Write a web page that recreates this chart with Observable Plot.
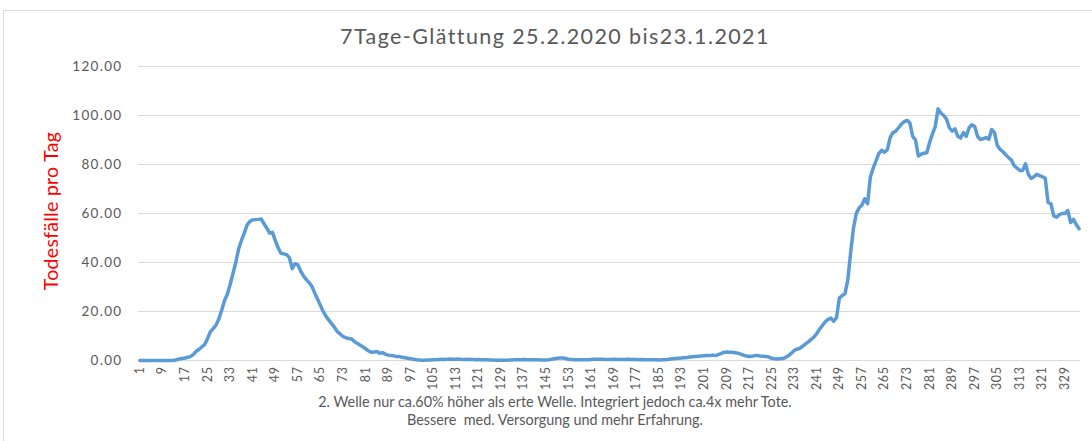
<!DOCTYPE html>
<html>
<head>
<meta charset="utf-8">
<script src="https://cdn.jsdelivr.net/npm/d3@7"></script>
<script src="https://cdn.jsdelivr.net/npm/@observablehq/plot@0.6"></script>
<style>
  html, body { margin: 0; padding: 0; background: #fff; }
  #wrap { position: relative; width: 1092px; height: 441px; overflow: hidden; font-family: Lato, "Open Sans", sans-serif; }
  #frame { position: absolute; left: 3px; top: 10px; width: 1200px; height: 600px; border: 1px solid #d9d9d9; box-sizing: border-box; }
  #title { position: absolute; left: 0; width: 1110px; top: 23px; text-align: center; font-size: 21.5px; letter-spacing: 1.4px; color: #595959; }
  #ylab { position: absolute; left: 50px; top: 211px; transform: translate(-50%, -50%) rotate(-90deg); white-space: nowrap; font-size: 19.5px; letter-spacing: 0.3px; color: #ff0000; }
  #caption { position: absolute; left: 0; width: 1110px; top: 393px; text-align: center; font-size: 14.4px; line-height: 18px; color: #595959; }
  #chart { position: absolute; left: 0; top: 0; }
  #chart g[aria-label="y-axis tick label"] text { letter-spacing: 1.3px; }
  #chart g[aria-label="x-axis tick label"] text { letter-spacing: 0.6px; }
</style>
</head>
<body>
<div id="wrap">
  <div id="frame"></div>
  <div id="chart"></div>
  <div id="title"></div>
  <div id="ylab"></div>
  <div id="caption"></div>
</div>
<script>
const titleText = "7Tage-Glättung 25.2.2020 bis23.1.2021";
const yLabelText = "Todesfälle pro Tag";
const captionLines = [
  "2. Welle nur ca.60% höher als erte Welle. Integriert jedoch ca.4x mehr Tote.",
  "Bessere\u00a0 med. Versorgung und mehr Erfahrung."
];
const yTicks = [0, 20, 40, 60, 80, 100, 120];
const xTicks = d3.range(1, 334, 8);

// daily 7-day smoothed deaths, day 1 = 25.2.2020 ... day 334 = 23.1.2021
const values = [
  0,0,0,0,0,0,0,0,0,0,
  0,0,0,0.3,0.6,0.8,1.0,1.3,1.7,2.5,
  3.8,4.6,5.6,6.6,9.0,11.8,13.0,14.5,17.0,20.5,
  24.5,27.0,31.0,35.5,40.0,45.5,49.0,52.0,55.3,56.8,
  57.4,57.5,57.6,57.8,55.8,54.0,52.0,52.3,49.0,46.0,
  43.8,43.5,43.2,42.0,37.5,39.5,39.0,36.5,34.5,33.0,
  31.8,30.2,27.5,25.0,22.5,20.0,18.0,16.5,15.0,13.5,
  11.8,10.8,9.8,9.3,9.0,8.8,7.8,7.0,6.3,5.6,
  4.8,4.0,3.4,3.5,3.7,3.0,3.2,2.6,2.2,2.0,
  1.9,1.6,1.6,1.3,1.1,0.9,0.7,0.5,0.3,0.2,
  0.1,0.1,0.2,0.2,0.3,0.3,0.4,0.5,0.4,0.5,
  0.6,0.5,0.5,0.6,0.4,0.4,0.5,0.4,0.4,0.3,
  0.4,0.3,0.3,0.3,0.2,0.2,0.1,0.1,0.1,0.1,
  0.1,0.2,0.2,0.3,0.3,0.3,0.4,0.3,0.3,0.3,
  0.3,0.3,0.2,0.2,0.2,0.3,0.5,0.7,0.9,1.0,
  1.0,0.8,0.5,0.4,0.3,0.3,0.3,0.3,0.3,0.3,
  0.4,0.5,0.5,0.5,0.5,0.4,0.4,0.4,0.5,0.4,
  0.4,0.4,0.4,0.5,0.4,0.4,0.4,0.3,0.4,0.3,
  0.3,0.3,0.3,0.3,0.2,0.3,0.3,0.4,0.6,0.7,
  0.8,0.9,1.0,1.1,1.2,1.4,1.5,1.6,1.7,1.8,
  1.9,2.0,2.0,2.2,2.0,2.4,2.8,3.3,3.5,3.4,
  3.4,3.2,3.0,2.6,2.2,1.8,1.6,1.7,2.0,2.0,
  1.8,1.7,1.6,1.4,0.9,0.7,0.6,0.7,0.8,1.3,
  2.0,3.0,4.1,4.6,5.0,5.8,6.8,7.6,8.6,9.6,
  11.0,12.8,14.3,15.8,16.8,17.3,16.0,17.5,25.5,26.5,
  27.2,33.0,44.0,54.0,60.0,62.3,63.5,66.0,64.0,75.0,
  78.5,81.5,84.5,85.8,85.0,86.0,91.0,93.0,93.6,95.0,
  96.5,97.5,98.0,97.0,91.5,90.0,83.5,84.2,84.6,84.8,
  89.0,92.5,95.5,102.7,101.0,100.0,98.5,95.0,93.6,94.5,
  91.5,90.8,93.0,91.5,95.0,96.2,95.5,91.5,90.2,90.5,
  91.0,90.3,94.3,93.0,87.8,86.2,85.2,84.0,82.8,81.8,
  79.5,78.5,77.6,77.6,80.3,76.0,74.3,75.0,76.0,75.5,
  75.0,74.4,64.5,64.0,59.0,58.5,59.5,60.0,60.0,61.2,
  56.3,57.6,55.5,53.8
];
const days = values.map((_, i) => i + 1);
const table = days.map((d, i) => ({day: d, value: values[i]}));

document.getElementById("title").textContent = titleText;
document.getElementById("ylab").textContent = yLabelText;
document.getElementById("caption").innerHTML = captionLines.map(s => `<div>${s}</div>`).join("");

const chart = Plot.plot({
  width: 1092,
  height: 441,
  marginLeft: 138,
  marginRight: 12,
  marginTop: 66,
  marginBottom: 81,
  style: {fontFamily: "Lato, 'Open Sans', sans-serif", color: "#595959", background: "transparent"},
  x: {domain: [0.5, days.length + 0.5]},
  y: {domain: [0, 120]},
  marks: [
    Plot.gridY(yTicks, {stroke: "#d9d9d9", strokeOpacity: 1, strokeWidth: 1}),
    Plot.ruleY([0], {stroke: "#d9d9d9", strokeWidth: 1}),
    Plot.axisY(yTicks, {tickSize: 0, tickPadding: 16, tickFormat: d => d.toFixed(2), label: null, fontSize: 13.5, fill: "#595959"}),
    Plot.axisX(xTicks, {tickSize: 0, tickPadding: 6, tickRotate: -90, label: null, fontSize: 12.5, fill: "#595959"}),
    Plot.line(table, {x: "day", y: "value", stroke: "#5b9bd5", strokeWidth: 3.5, strokeLinejoin: "round", strokeLinecap: "round"})
  ]
});
document.getElementById("chart").appendChild(chart);
</script>
</body>
</html>
